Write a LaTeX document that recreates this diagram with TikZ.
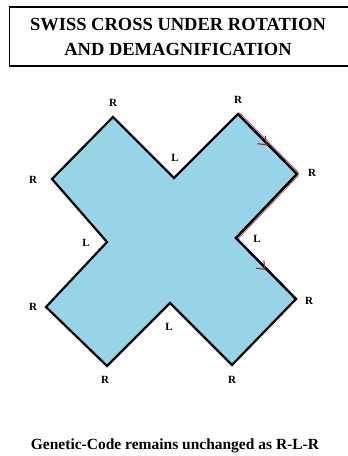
\documentclass[tikz,border=0pt]{standalone}
\usepackage{fontspec}
\setmainfont{Liberation Serif}
\usetikzlibrary{positioning,calc,decorations.markings,arrows.meta}
\definecolor{crossblue}{RGB}{152,212,232}
\definecolor{arrowred}{RGB}{170,40,50}

\begin{document}
\begin{tikzpicture}[x=1pt,y=-1pt,
    turn/.style={font=\bfseries\fontsize{11}{12}\selectfont, inner sep=0pt},
    edge/.style={draw=black, line width=2.2pt, line join=miter},
    redarrow/.style={postaction={decorate}, decoration={markings,
        mark=at position 0.5 with {\arrow[arrowred]{Straight Barb[length=7pt,width=11pt,line width=1.2pt]}}}}
]
\useasboundingbox (0,0) rectangle (348,456);

% Title
\draw[line width=1.8pt] (9.5,7) rectangle (350,66);
\node[font=\bfseries\fontsize{18.5}{25}\selectfont, align=center] (title) at (178,36.5)
    {SWISS CROSS UNDER ROTATION\\AND DEMAGNIFICATION};

% Corners of the cross
\coordinate (r1) at (113,117);
\coordinate (l1) at (174,178);
\coordinate (r2) at (238,114);
\coordinate (r3) at (297,174);
\coordinate (l2) at (236,238);
\coordinate (r4) at (296,299);
\coordinate (r5) at (232,365);
\coordinate (l3) at (170,303);
\coordinate (r6) at (107,366);
\coordinate (r7) at (46,307);
\coordinate (l4) at (107,242);
\coordinate (r8) at (52,179);

% Cross
\filldraw[edge, fill=crossblue] (r1) -- (l1) -- (r2) -- (r3) -- (l2) -- (r4)
    -- (r5) -- (l3) -- (r6) -- (r7) -- (l4) -- (r8) -- cycle;

% Direction marks
\draw[arrowred!80, line width=0.7pt] ($(r2)+(1.5,-1.5)$) -- ($(r3)+(1.5,-1.5)$);
\draw[arrowred!80, line width=0.7pt] ($(r3)+(1.5,1.5)$) -- ($(l2)+(1.5,1.5)$);
\draw[edge] (r2) -- (r3) -- (l2) -- (r4);
\path[redarrow] ($(r2)+(-0.5,1.5)$) -- ($(r3)+(-0.5,1.5)$);
\path[redarrow] ($(l2)+(-0.5,1.5)$) -- ($(r4)+(-0.5,1.5)$);

% Labels
\node[turn] (tr1) at (113,103) {R};
\node[turn] (tl1) at (175,158) {L};
\node[turn] (tr2) at (238,100) {R};
\node[turn] (tr3) at (312,173) {R};
\node[turn] (tl2) at (257,239) {L};
\node[turn] (tr4) at (309,301) {R};
\node[turn] (tr5) at (232,380) {R};
\node[turn] (tl3) at (169,327) {L};
\node[turn] (tr6) at (105,380) {R};
\node[turn] (tr7) at (33,307) {R};
\node[turn] (tl4) at (86,243) {L};
\node[turn] (tr8) at (33,180) {R};

% Caption
\node[font=\bfseries\fontsize{15.5}{18}\selectfont] (caption) at (175,446)
    {Genetic-Code remains unchanged as R-L-R};

\end{tikzpicture}
\end{document}
